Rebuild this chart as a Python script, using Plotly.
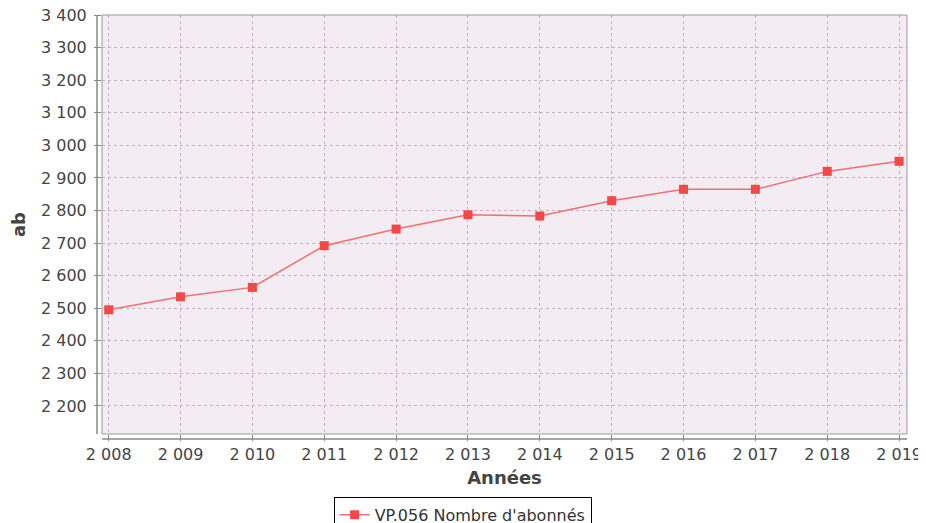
import plotly.graph_objects as go

years = [2008, 2009, 2010, 2011, 2012, 2013, 2014, 2015, 2016, 2017, 2018, 2019]
abonnes = [2495, 2535, 2564, 2692, 2743, 2787, 2783, 2830, 2865, 2865, 2920, 2951]
series_name = "VP.056 Nombre d'abonnés"
y_ticks = [2200, 2300, 2400, 2500, 2600, 2700, 2800, 2900, 3000, 3100, 3200, 3300, 3400]

FONT = "DejaVu Sans"
TICK_COLOR = "#444444"
GRID = "#C9AFC6"

fig = go.Figure()
fig.add_trace(go.Scatter(
    x=years, y=abonnes, mode="lines+markers", name=series_name,
    line=dict(color="#F07070", width=1.5),
    marker=dict(symbol="square", size=9, color="#F24848"),
))

# page body has an 8px default margin, so the figure is 918x515 to fill the 926x523 window
fig.update_layout(
    width=918, height=515,
    margin=dict(l=94, r=19, t=7, b=89, autoexpand=False),
    paper_bgcolor="white",
    plot_bgcolor="#F3ECF3",
    separators=", ",
    font=dict(family=FONT, size=16, color=TICK_COLOR),
    showlegend=True,
    legend=dict(
        orientation="h", x=0.448, xanchor="center", y=-0.150, yanchor="top",
        bordercolor="#000000", borderwidth=1, bgcolor="white",
        font=dict(family=FONT, size=16, color="#333333"),
        itemwidth=30,
    ),
)

fig.update_xaxes(
    range=[2007.907, 2019.11], automargin=False,
    tickmode="array", tickvals=years, tickformat=",d",
    showgrid=True, gridcolor=GRID, griddash="3px,3px", gridwidth=1,
    zeroline=False, showline=False,
    ticks="outside", ticklen=6, tickcolor="#888888",
    ticklabelstandoff=0, ticklabeloverflow="allow",
    tickfont=dict(family=FONT, size=16, color=TICK_COLOR),
    title=dict(text="<b>Années</b>", font=dict(family=FONT, size=18, color="#444444"), standoff=8),
)
fig.update_yaxes(
    range=[2114, 3400], automargin=False,
    tickmode="array", tickvals=y_ticks, tickformat=",d",
    showgrid=True, gridcolor=GRID, griddash="3px,3px", gridwidth=1,
    zeroline=False, showline=False,
    ticks="outside", ticklen=7, tickcolor="#888888",
    ticklabelstandoff=4, ticklabeloverflow="allow",
    tickfont=dict(family=FONT, size=16, color=TICK_COLOR),
    title=dict(text="<b>ab</b>", font=dict(family=FONT, size=18, color="#444444"), standoff=10),
)

# plot border
fig.add_shape(type="rect", xref="paper", yref="paper", x0=0, x1=1, y0=0, y1=1,
              line=dict(color="#999999", width=1), layer="above")
# offset axis lines
fig.add_shape(type="line", xref="paper", yref="paper", x0=0, x1=1, y0=-0.012, y1=-0.012,
              line=dict(color="#888888", width=1.5))
fig.add_shape(type="line", xref="paper", yref="paper", x0=-0.0062, x1=-0.0062, y0=0, y1=1,
              line=dict(color="#888888", width=1.5))

fig.write_html("out.html")
